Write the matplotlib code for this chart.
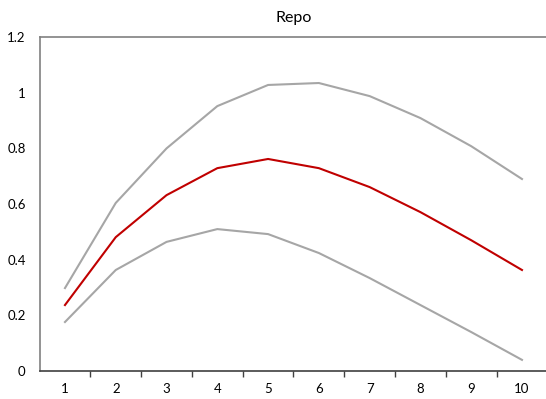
import matplotlib
matplotlib.use("Agg")
import matplotlib.pyplot as plt
from matplotlib.ticker import FixedLocator

plt.rcParams['font.family'] = ['Lato', 'DejaVu Sans']

periods = [1, 2, 3, 4, 5, 6, 7, 8, 9, 10]
upper = [0.298, 0.604, 0.800, 0.952, 1.028, 1.035, 0.988, 0.909, 0.808, 0.690]
median = [0.237, 0.481, 0.632, 0.729, 0.762, 0.729, 0.661, 0.571, 0.470, 0.363]
lower = [0.176, 0.363, 0.464, 0.510, 0.492, 0.424, 0.334, 0.237, 0.140, 0.040]
yticks = [0, 0.2, 0.4, 0.6, 0.8, 1.0, 1.2]
ylabels = ["0", "0.2", "0.4", "0.6", "0.8", "1", "1.2"]

fig = plt.figure(figsize=(5.46, 3.99), dpi=100)
ax = fig.add_axes([0.0725, 0.0702, 0.930, 0.8368])

gray = "#A6A6A6"
red = "#C00000"
ax.plot(periods, upper, color=gray, lw=1.5)
ax.plot(periods, lower, color=gray, lw=1.5)
ax.plot(periods, median, color=red, lw=1.5)

ax.set_xlim(0.5, 10.5)
ax.set_ylim(0, 1.2)
ax.set_yticks(yticks)
ax.set_yticklabels(ylabels)
ax.set_xticks(periods)
ax.set_xticklabels([str(p) for p in periods])
ax.xaxis.set_minor_locator(FixedLocator([p + 0.5 for p in periods[:-1]]))
ax.tick_params(axis='x', which='major', length=0, pad=9, labelsize=9.5)
ax.tick_params(axis='x', which='minor', length=4, direction='out', color='#404040', width=1)
ax.tick_params(axis='y', length=0, pad=10, labelsize=9.5)

ax.spines['right'].set_visible(False)
ax.spines['top'].set_color('#808080')
ax.spines['left'].set_color('#808080')
ax.spines['bottom'].set_color('#404040')
for s in ('top', 'left', 'bottom'):
    ax.spines[s].set_linewidth(1.2)

ax.set_title("Repo", fontsize=11.5, pad=11)

fig.savefig("out.png", dpi=100)
